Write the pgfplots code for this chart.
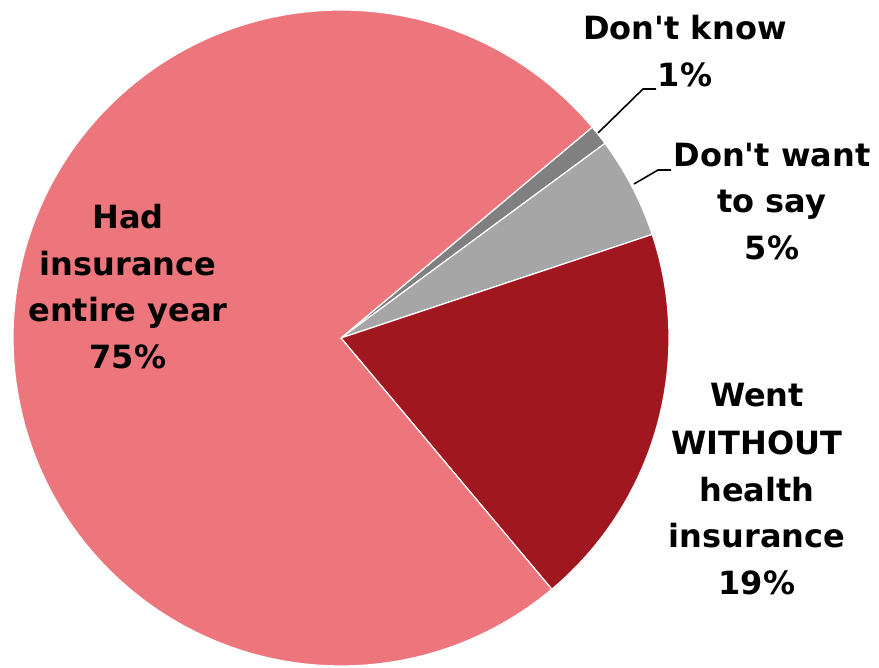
\documentclass[border=0pt]{standalone}
\usepackage{pgfplots}
\pgfplotsset{compat=1.18}
\usepackage{pgfplotstable}
\usepackage{fontspec}
\setmainfont{DejaVu Sans}[Ligatures=TeXOff]

\definecolor{hadc}{RGB}{237,118,124}
\definecolor{withoutc}{RGB}{160,23,31}
\definecolor{wantc}{RGB}{166,166,166}
\definecolor{knowc}{RGB}{128,128,128}

\tikzset{lbl/.style={font=\fontsize{32}{38}\selectfont\bfseries, anchor=base, inner sep=0pt}}

% shares in percent, clockwise from the start angle
\pgfplotstableread{
slice share
know 1
want 5
without 19
had 75
}\piedata

\pgfmathsetmacro\aZero{40}
\pgfplotstablegetelem{0}{share}\of\piedata
\pgfmathsetmacro\aOne{\aZero-3.6*\pgfplotsretval}
\pgfplotstablegetelem{1}{share}\of\piedata
\pgfmathsetmacro\aTwo{\aOne-3.6*\pgfplotsretval}
\pgfplotstablegetelem{2}{share}\of\piedata
\pgfmathsetmacro\aThree{\aTwo-3.6*\pgfplotsretval}
\pgfplotstablegetelem{3}{share}\of\piedata
\pgfmathsetmacro\aFour{\aThree-3.6*\pgfplotsretval}

\def\cx{341}
\def\cy{330}
\def\rr{328}

\begin{document}
\begin{tikzpicture}
\begin{axis}[
  x=1pt, y=1pt, scale only axis,
  xmin=0, xmax=879, ymin=0, ymax=668,
  hide axis,
]
\addplot[draw=none] coordinates {(0,0) (879,668)};
\addplot[fill=knowc, draw=white, line width=1.2pt, domain=\aOne:\aZero, samples=10, variable=\t]
  ({\cx+\rr*cos(\t)},{\cy+\rr*sin(\t)}) -- (axis cs:\cx,\cy) -- cycle;
\addplot[fill=wantc, draw=white, line width=1.2pt, domain=\aTwo:\aOne, samples=30, variable=\t]
  ({\cx+\rr*cos(\t)},{\cy+\rr*sin(\t)}) -- (axis cs:\cx,\cy) -- cycle;
\addplot[fill=withoutc, draw=white, line width=1.2pt, domain=\aThree:\aTwo, samples=60, variable=\t]
  ({\cx+\rr*cos(\t)},{\cy+\rr*sin(\t)}) -- (axis cs:\cx,\cy) -- cycle;
\addplot[fill=hadc, draw=white, line width=1.2pt, domain=\aFour:\aThree, samples=180, variable=\t]
  ({\cx+\rr*cos(\t)},{\cy+\rr*sin(\t)}) -- (axis cs:\cx,\cy) -- cycle;

% leader lines
\addplot[black, line width=1.6pt] coordinates {(598,535) (643,579) (656,579)};
\addplot[black, line width=1.6pt] coordinates {(634,484) (658,498) (671,498)};

% labels
\node[lbl] at (axis cs:128,439) {Had};
\node[lbl] at (axis cs:128,392.5) {insurance};
\node[lbl] at (axis cs:128,346) {entire year};
\node[lbl] at (axis cs:128,299.5) {75\%};

\node[lbl] at (axis cs:685,628) {Don't know};
\node[lbl] at (axis cs:685,581) {1\%};

\node[lbl] at (axis cs:772,501) {Don't want};
\node[lbl] at (axis cs:772,455) {to say};
\node[lbl] at (axis cs:772,408) {5\%};

\node[lbl] at (axis cs:757,261) {Went};
\node[lbl] at (axis cs:757,213) {WITHOUT};
\node[lbl] at (axis cs:757,166) {health};
\node[lbl] at (axis cs:757,120) {insurance};
\node[lbl] at (axis cs:757,73) {19\%};
\end{axis}
\end{tikzpicture}
\end{document}
